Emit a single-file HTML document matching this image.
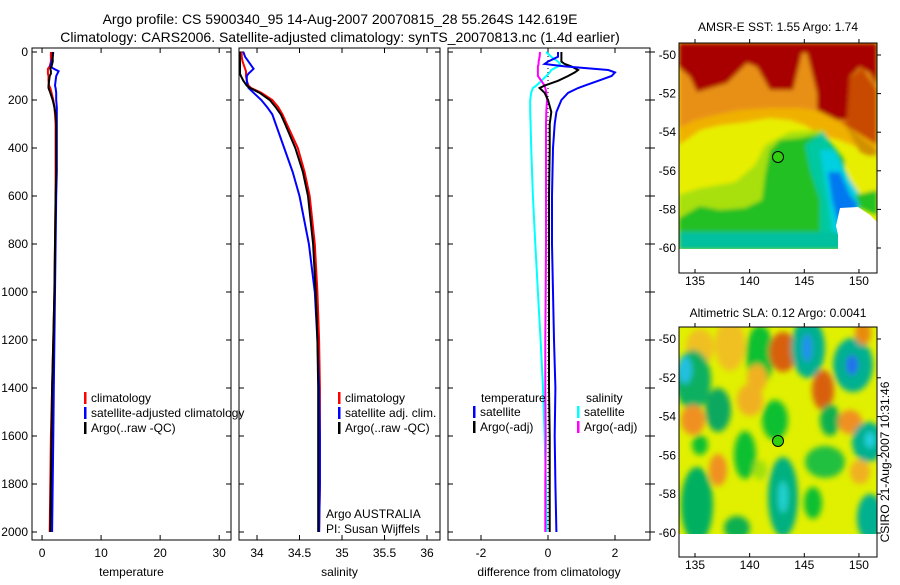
<!DOCTYPE html>
<html><head><meta charset="utf-8">
<style>
body{margin:0;background:#fff;width:900px;height:580px;overflow:hidden;font-family:"Liberation Sans",sans-serif;}
svg text{font-family:"Liberation Sans",sans-serif;}
</style></head>
<body>
<svg id="fig" width="900" height="580" viewBox="0 0 900 580" xmlns="http://www.w3.org/2000/svg">
<defs>
<filter id="bl" x="-20%" y="-20%" width="140%" height="140%"><feGaussianBlur stdDeviation="2"/></filter>
<filter id="bl2" x="-30%" y="-30%" width="160%" height="160%"><feGaussianBlur stdDeviation="3"/></filter>
<clipPath id="c1"><rect x="679" y="43" width="198" height="206"/></clipPath>
<clipPath id="c2"><rect x="679" y="327" width="198" height="207"/></clipPath>
</defs>
<text x="340" y="24" font-size="14" text-anchor="middle">Argo profile: CS 5900340_95 14-Aug-2007 20070815_28 55.264S 142.619E</text>
<text x="340" y="42" font-size="14" text-anchor="middle">Climatology: CARS2006. Satellite-adjusted climatology: synTS_20070813.nc (1.4d earlier)</text>

<!-- Map 1: SST -->
<g>
<text x="778" y="31" font-size="12" text-anchor="middle">AMSR-E SST: 1.55 Argo: 1.74</text>
<g clip-path="url(#c1)">
<rect x="679" y="43" width="198" height="206" fill="#e8ee00"/>
<g filter="url(#bl)">
<polygon fill="#f0b000" points="679,43 877,43 877,150 860,148 840,140 820,135 805,125 790,120 770,118 745,122 720,125 700,130 679,145"/>
<polygon fill="#e89018" points="679,43 877,43 877,135 845,125 825,112 800,108 770,108 740,110 715,115 695,120 679,128"/>
<polygon fill="#a80000" points="679,43 877,43 877,87 870,73 860,67 850,77 847,120 837,120 817,110 817,93 807,53 802,53 793,90 770,90 757,67 747,63 727,83 697,92 690,77 679,67"/>
<polygon fill="#c84800" points="840,122 877,145 877,90 862,68 850,78 847,122"/>
<polygon fill="#d09000" points="845,125 877,150 877,160 860,152"/>
<polygon fill="#a8e010" points="679,195 700,188 735,182 755,160 765,145 790,132 823,130 835,150 820,230 679,230"/>
<polygon fill="#e8ee00" points="679,160 720,150 755,140 765,145 755,165 735,182 700,188 679,192"/>
<polygon fill="#20c020" points="679,218 679,250 840,250 845,160 823,133 800,138 780,140 770,150 765,175 762,200 745,208 720,210 700,206"/>
<polygon fill="#00c8a0" points="805,145 823,132 835,150 845,175 850,200 840,249 820,249 820,200 810,170"/>
<polygon fill="#00d0e0" points="820,150 835,150 850,180 860,195 855,245 835,249 828,200"/>
<polygon fill="#0078f0" points="828,172 840,172 850,195 858,205 840,230 832,200"/>
<polygon fill="#00c0a0" points="679,232 877,232 877,249 679,249"/>
<polygon fill="#e8ee00" points="845,160 877,155 877,200 860,195 850,180"/>
<polygon fill="#20c020" points="855,195 877,190 877,215 860,208"/>
</g>
<polygon fill="#fff" points="840,208 858,207 870,215 877,222 877,249 838,249 838,235 836,226"/>
</g>
<rect x="679" y="249" width="198" height="24" fill="#fff"/>
<circle cx="778" cy="157" r="5.5" fill="#30d010" stroke="#000" stroke-width="1"/>
<rect x="679" y="43" width="198" height="230" fill="none" stroke="#000" stroke-width="1"/>
</g>

<!-- Map 2: SLA -->
<g>
<text x="778" y="317" font-size="12" text-anchor="middle">Altimetric SLA: 0.12 Argo: 0.0041</text>
<g clip-path="url(#c2)">
<rect x="679" y="327" width="198" height="207" fill="#e0f000"/>
<g filter="url(#bl2)">
<ellipse cx="730" cy="345" rx="15" ry="26" fill="#f0c020"/>
<ellipse cx="700" cy="347" rx="14" ry="18" fill="#f0c020"/>
<ellipse cx="693" cy="380" rx="18" ry="30" fill="#10b060"/>
<ellipse cx="685" cy="370" rx="7" ry="14" fill="#20c0e0"/>
<ellipse cx="718" cy="410" rx="13" ry="22" fill="#10a860"/>
<ellipse cx="760" cy="355" rx="14" ry="30" fill="#10c030"/>
<ellipse cx="783" cy="352" rx="14" ry="20" fill="#d86010"/>
<ellipse cx="808" cy="348" rx="17" ry="30" fill="#00b090"/>
<ellipse cx="807" cy="348" rx="5" ry="14" fill="#2090f0"/>
<ellipse cx="853" cy="365" rx="20" ry="27" fill="#00b090"/>
<ellipse cx="852" cy="365" rx="6" ry="10" fill="#2070f0"/>
<ellipse cx="863" cy="333" rx="8" ry="12" fill="#e88a10"/>
<ellipse cx="823" cy="390" rx="11" ry="20" fill="#d86010"/>
<ellipse cx="750" cy="400" rx="13" ry="16" fill="#f0b020"/>
<ellipse cx="693" cy="420" rx="12" ry="15" fill="#f09020"/>
<ellipse cx="775" cy="420" rx="13" ry="20" fill="#10c030"/>
<ellipse cx="830" cy="420" rx="10" ry="16" fill="#10b050"/>
<ellipse cx="850" cy="422" rx="12" ry="12" fill="#f09020"/>
<ellipse cx="868" cy="442" rx="16" ry="20" fill="#00b090"/>
<ellipse cx="870" cy="440" rx="5" ry="8" fill="#20d0e0"/>
<ellipse cx="745" cy="455" rx="11" ry="24" fill="#10c030"/>
<ellipse cx="718" cy="470" rx="9" ry="16" fill="#f09020"/>
<ellipse cx="825" cy="462" rx="20" ry="16" fill="#20c040"/>
<ellipse cx="697" cy="505" rx="16" ry="38" fill="#00b060"/>
<ellipse cx="783" cy="497" rx="15" ry="40" fill="#00b080"/>
<ellipse cx="783" cy="497" rx="5" ry="16" fill="#20d0d0"/>
<ellipse cx="737" cy="528" rx="13" ry="12" fill="#10b050"/>
<ellipse cx="813" cy="503" rx="9" ry="16" fill="#10c030"/>
<ellipse cx="870" cy="518" rx="13" ry="24" fill="#00b090"/>
<ellipse cx="860" cy="472" rx="10" ry="12" fill="#f0b020"/>
<ellipse cx="757" cy="378" rx="10" ry="14" fill="#f0b020"/>
<ellipse cx="700" cy="445" rx="8" ry="10" fill="#10c030"/>
<ellipse cx="760" cy="470" rx="7" ry="10" fill="#a0e010"/>
</g>
</g>
<rect x="679" y="534" width="198" height="23" fill="#fff"/>
<circle cx="778" cy="441" r="5.5" fill="#30d010" stroke="#000" stroke-width="1"/>
<rect x="679" y="327" width="198" height="230" fill="none" stroke="#000" stroke-width="1"/>
</g>
<text transform="translate(889,462) rotate(-90)" font-size="12" text-anchor="middle">CSIRO 21-Aug-2007 10:31:46</text>
<g id="maptk"></g>
<g id="charts"></g>
</svg>
<script>
// Shared depths
const depthTS = [0,20,40,60,70,80,90,100,120,140,150,170,200,230,260,300,400,500,600,800,1000,1200,1400,1600,1800,2000];
const tempClim = [1.5,1.5,1.5,1.3,1.0,1.0,1.0,1.1,1.1,1.2,1.4,1.6,1.9,2.1,2.2,2.3,2.3,2.3,2.3,2.2,2.1,1.9,1.7,1.5,1.4,1.3];
const tempSat = [1.9,1.8,1.6,1.4,2.0,2.8,2.6,2.4,2.3,2.2,2.3,2.4,2.4,2.5,2.5,2.5,2.5,2.5,2.4,2.3,2.2,2.1,2.0,1.9,1.8,1.7];
const tempArgo = [1.8,1.8,1.8,1.6,1.4,1.5,1.5,1.3,1.2,1.1,1.1,1.4,1.8,2.1,2.3,2.4,2.4,2.4,2.3,2.2,2.1,1.9,1.7,1.6,1.5,1.4];
const salClim = [33.82,33.82,33.83,33.85,33.86,33.87,33.87,33.87,33.88,33.9,33.93,34.05,34.18,34.25,34.3,34.35,34.48,34.56,34.62,34.68,34.71,34.73,34.74,34.74,34.74,34.73];
const salSat = [33.84,33.86,33.9,33.94,33.96,33.93,33.9,33.88,33.88,33.89,33.9,33.96,34.05,34.12,34.18,34.22,34.32,34.42,34.5,34.61,34.68,34.71,34.73,34.74,34.74,34.73];
const salArgo = [33.8,33.8,33.8,33.8,33.8,33.8,33.8,33.81,33.84,33.88,33.92,34.03,34.15,34.22,34.28,34.33,34.45,34.54,34.6,34.66,34.69,34.71,34.72,34.72,34.72,34.72];
const depthDiff = [0,20,40,50,60,75,85,100,120,140,150,170,200,250,300,400,600,800,1000,1200,1400,1600,1800,2000];
const diffTSat = [0.3,0.3,0.0,-0.1,0.5,1.8,2.0,1.9,1.5,1.1,0.9,0.6,0.4,0.25,0.2,0.15,0.12,0.12,0.15,0.18,0.22,0.2,0.22,0.25];
const diffTArgo = [0.4,0.4,0.4,0.5,0.7,0.9,0.8,0.6,0.3,-0.1,-0.25,-0.1,0.0,0.1,0.05,0.05,0.03,0.03,0.03,0.03,0.03,0.05,0.05,0.05];
const diffSSat = [-0.06,0.1,0.3,0.36,0.3,0.1,0.05,-0.05,-0.2,-0.35,-0.45,-0.5,-0.53,-0.53,-0.52,-0.5,-0.45,-0.38,-0.3,-0.22,-0.15,-0.1,-0.06,-0.04];
const diffSArgo = [-0.24,-0.25,-0.28,-0.28,-0.3,-0.3,-0.3,-0.3,-0.2,-0.1,-0.08,-0.05,-0.03,-0.05,-0.06,-0.06,-0.06,-0.06,-0.07,-0.08,-0.08,-0.07,-0.08,-0.08];
const depthTicks = [0,200,400,600,800,1000,1200,1400,1600,1800,2000];
const tempTicks = [0,10,20,30];
const salTicks = [34,34.5,35,35.5,36];
const salTickLabels = ["34","34.5","35","35.5","36"];
const diffTicks = [-2,0,2];
const lonTicks = [135,140,145,150];
const latTicks = [-50,-52,-54,-56,-58,-60];

const NS='http://www.w3.org/2000/svg';
const root=document.getElementById('charts');
function mk(tag,attrs,parent){const e=document.createElementNS(NS,tag);for(const k in attrs)e.setAttribute(k,attrs[k]);(parent||root).appendChild(e);return e;}
const Y0=52, PXM=0.24, YB=540;
const yD=d=>Y0+d*PXM;

function panel(name,x0,x1,vmin,vmax,ticks,labels,xlabel,leftLabels,rightTicks){
  const g=mk('g',{});
  
  
  const sx=v=>x0+(v-vmin)/(vmax-vmin)*(x1-x0);
  const box=mk('rect',{x:x0,y:Y0-4,width:x1-x0,height:YB-Y0+4,fill:'none',stroke:'#000','stroke-width':1},g);
  
  
  depthTicks.forEach(d=>{
    mk('line',{x1:x0,x2:x0+5,y1:yD(d),y2:yD(d),stroke:'#000'},g);
    mk('line',{x1:x1,x2:x1-5,y1:yD(d),y2:yD(d),stroke:'#000'},g);
    if(rightTicks) mk('line',{x1:x1,x2:x1+5,y1:yD(d),y2:yD(d),stroke:'#000'},g);
    if(leftLabels){const t=mk('text',{x:x0-4,y:yD(d)+4,'font-size':12,'text-anchor':'end'},g);t.textContent=d;
      
      }
  });
  ticks.forEach((v,i)=>{
    mk('line',{x1:sx(v),x2:sx(v),y1:YB,y2:YB-5,stroke:'#000'},g);
    mk('line',{x1:sx(v),x2:sx(v),y1:Y0-4,y2:Y0+1,stroke:'#000'},g);
    const t=mk('text',{x:sx(v),y:YB+17,'font-size':12,'text-anchor':'middle'},g);t.textContent=labels[i];
    
    
  });
  const xl=mk('text',{x:(x0+x1)/2,y:YB+36,'font-size':12,'text-anchor':'middle'},g);xl.textContent=xlabel;
  
  
  return {g,sx};
}
function series(p,name,depths,vals,color,w,dash){
  const pts=depths.map((d,i)=>p.sx(vals[i]).toFixed(1)+','+yD(d).toFixed(1)).join(' ');
  const l=mk('polyline',{points:pts,fill:'none',stroke:color,'stroke-width':w||2,'stroke-dasharray':dash||'none'},p.g);
  
  
}
function leg(g,x,y,color,text,name){
  if(color){mk('rect',{x:x,y:y-10,width:2.5,height:12,fill:color},g);}
  const t=mk('text',{x:x+7,y:y,'font-size':12},g);t.textContent=text;
  
  
}

const p1=panel('temperature-panel',32,231,-1.7,32,tempTicks,tempTicks.map(String),'temperature',true,false);
series(p1,'temp-climatology-line',depthTS,tempClim,'#ff0000');
series(p1,'temp-satellite-line',depthTS,tempSat,'#0000ff');
series(p1,'temp-argo-line',depthTS,tempArgo,'#000000');
leg(p1.g,84,402,'#ff0000','climatology','legend-climatology');
leg(p1.g,84,417,'#0000ff','satellite-adjusted climatology','legend-satellite');
leg(p1.g,84,432,'#000000','Argo(..raw -QC)','legend-argo');

const p2=panel('salinity-panel',239,440,33.788,36.153,salTicks,salTickLabels,'salinity',false,false);
series(p2,'sal-climatology-line',depthTS,salClim,'#ff0000');
series(p2,'sal-satellite-line',depthTS,salSat,'#0000ff');
series(p2,'sal-argo-line',depthTS,salArgo,'#000000');
leg(p2.g,338,402,'#ff0000','climatology','legend-climatology');
leg(p2.g,338,417,'#0000ff','satellite adj. clim.','legend-satellite');
leg(p2.g,338,432,'#000000','Argo(..raw -QC)','legend-argo');
const a1=mk('text',{x:326,y:518,'font-size':12},p2.g);a1.textContent='Argo AUSTRALIA';


const a2=mk('text',{x:326,y:533,'font-size':12},p2.g);a2.textContent='PI: Susan Wijffels';



const p3=panel('difference-panel',448,650,-2.985,3.045,diffTicks,diffTicks.map(String),'difference from climatology',false,true);
mk('line',{x1:p3.sx(0),x2:p3.sx(0),y1:yD(0),y2:yD(2000),stroke:'#000','stroke-dasharray':'1,3','stroke-width':1},p3.g);
series(p3,'diff-salinity-satellite-line',depthDiff,diffSSat,'#00ffff');
series(p3,'diff-salinity-argo-line',depthDiff,diffSArgo,'#ff00ff');
series(p3,'diff-temp-argo-line',depthDiff,diffTArgo,'#000000');
series(p3,'diff-temp-satellite-line',depthDiff,diffTSat,'#0000ff');
leg(p3.g,474,402,null,'temperature','legend-temperature-header');
leg(p3.g,473,416,'#0000ff','satellite','legend-temp-satellite');
leg(p3.g,473,431,'#000000','Argo(-adj)','legend-temp-argo');
leg(p3.g,579,402,null,'salinity','legend-salinity-header');
leg(p3.g,577,416,'#00ffff','satellite','legend-sal-satellite');
leg(p3.g,577,431,'#ff00ff','Argo(-adj)','legend-sal-argo');

// map ticks
const mt=document.getElementById('maptk');
[[43,273,55,248,285],[327,557,339,533,569]].forEach((m,mi)=>{
  const lx=v=>695+(v-135)*10.93;
  const ly=v=>m[2]+(-50-v)*(m[3]-m[2])/10;
  lonTicks.forEach(v=>{
    mk('line',{x1:lx(v),x2:lx(v),y1:m[1],y2:m[1]-4,stroke:'#000'},mt);
    mk('line',{x1:lx(v),x2:lx(v),y1:m[0],y2:m[0]-4,stroke:'#000'},mt);
    const t=mk('text',{x:lx(v),y:m[4],'font-size':12,'text-anchor':'middle'},mt);t.textContent=v;
    
    
  });
  latTicks.forEach(v=>{
    mk('line',{x1:877,x2:881,y1:ly(v),y2:ly(v),stroke:'#000'},mt);
    const t=mk('text',{x:676,y:ly(v)+4,'font-size':12,'text-anchor':'end'},mt);t.textContent=v;
    
    
  });
});
</script>
</body></html>
